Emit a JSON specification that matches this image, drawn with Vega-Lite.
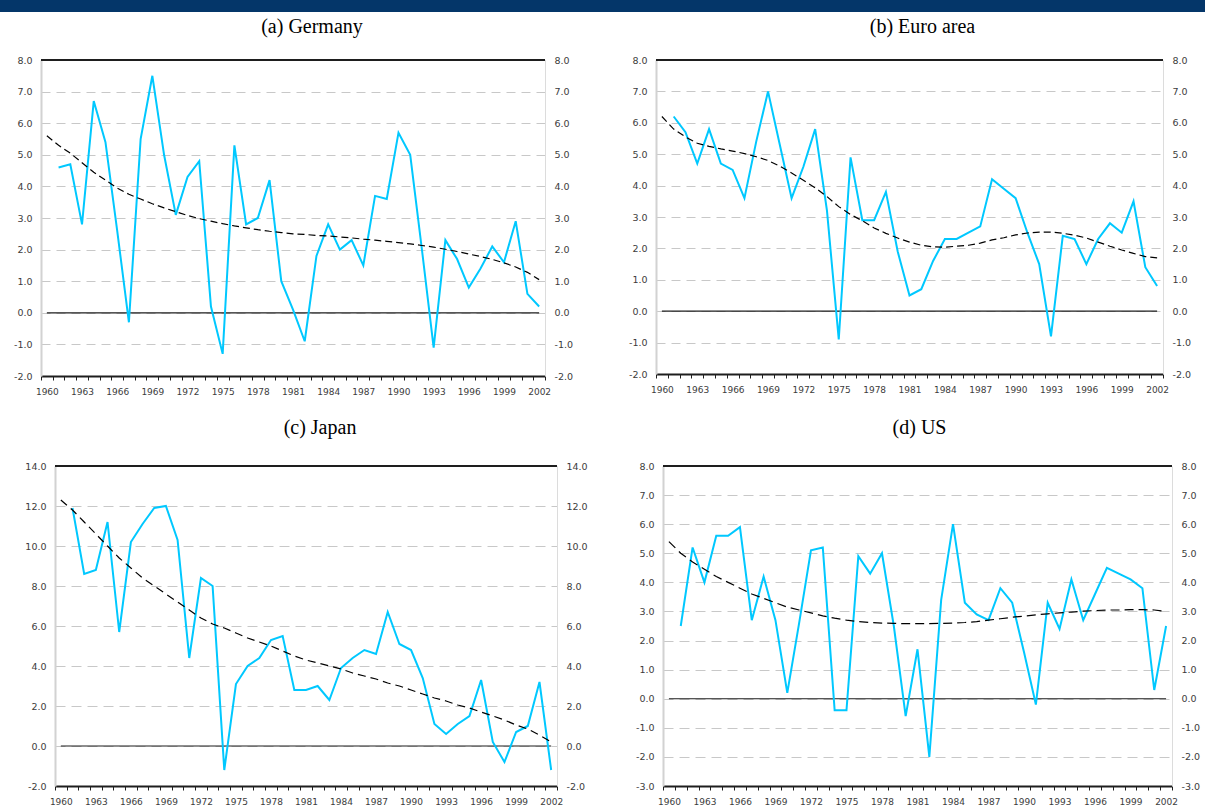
{
  "$schema": "https://vega.github.io/schema/vega-lite/v6.json",
  "autosize": {"type": "pad"},
  "padding": 0,
  "background": "#ffffff",
  "config": {"view": {"stroke": null}},
  "datasets": {
    "germany": [
      {"year":1960,"growth":null,"trend":5.6},{"year":1961,"growth":4.6,"trend":5.3},{"year":1962,"growth":4.7,"trend":5.05},{"year":1963,"growth":2.8,"trend":4.75},{"year":1964,"growth":6.7,"trend":4.45},{"year":1965,"growth":5.4,"trend":4.2},{"year":1966,"growth":2.6,"trend":3.95},{"year":1967,"growth":-0.3,"trend":3.75},{"year":1968,"growth":5.5,"trend":3.6},{"year":1969,"growth":7.5,"trend":3.45},{"year":1970,"growth":5.0,"trend":3.32},{"year":1971,"growth":3.1,"trend":3.2},{"year":1972,"growth":4.3,"trend":3.08},{"year":1973,"growth":4.8,"trend":2.98},{"year":1974,"growth":0.2,"trend":2.9},{"year":1975,"growth":-1.3,"trend":2.82},{"year":1976,"growth":5.3,"trend":2.75},{"year":1977,"growth":2.8,"trend":2.69},{"year":1978,"growth":3.0,"trend":2.63},{"year":1979,"growth":4.2,"trend":2.58},{"year":1980,"growth":1.0,"trend":2.54},{"year":1981,"growth":0.1,"trend":2.5},{"year":1982,"growth":-0.9,"trend":2.48},{"year":1983,"growth":1.8,"trend":2.45},{"year":1984,"growth":2.8,"trend":2.43},{"year":1985,"growth":2.0,"trend":2.4},{"year":1986,"growth":2.3,"trend":2.37},{"year":1987,"growth":1.5,"trend":2.33},{"year":1988,"growth":3.7,"trend":2.3},{"year":1989,"growth":3.6,"trend":2.26},{"year":1990,"growth":5.7,"trend":2.22},{"year":1991,"growth":5.0,"trend":2.18},{"year":1992,"growth":2.0,"trend":2.13},{"year":1993,"growth":-1.1,"trend":2.08},{"year":1994,"growth":2.3,"trend":2.01},{"year":1995,"growth":1.7,"trend":1.94},{"year":1996,"growth":0.8,"trend":1.86},{"year":1997,"growth":1.4,"trend":1.78},{"year":1998,"growth":2.1,"trend":1.69},{"year":1999,"growth":1.6,"trend":1.58},{"year":2000,"growth":2.9,"trend":1.45},{"year":2001,"growth":0.6,"trend":1.28},{"year":2002,"growth":0.2,"trend":1.05}
    ],
    "euro": [
      {"year":1960,"growth":null,"trend":6.2},{"year":1961,"growth":6.2,"trend":5.8},{"year":1962,"growth":5.7,"trend":5.55},{"year":1963,"growth":4.7,"trend":5.35},{"year":1964,"growth":5.8,"trend":5.25},{"year":1965,"growth":4.7,"trend":5.17},{"year":1966,"growth":4.5,"trend":5.1},{"year":1967,"growth":3.6,"trend":5.02},{"year":1968,"growth":5.4,"trend":4.92},{"year":1969,"growth":7.0,"trend":4.8},{"year":1970,"growth":5.3,"trend":4.62},{"year":1971,"growth":3.6,"trend":4.4},{"year":1972,"growth":4.6,"trend":4.17},{"year":1973,"growth":5.8,"trend":3.93},{"year":1974,"growth":3.2,"trend":3.65},{"year":1975,"growth":-0.9,"trend":3.33},{"year":1976,"growth":4.9,"trend":3.08},{"year":1977,"growth":2.9,"trend":2.88},{"year":1978,"growth":2.9,"trend":2.65},{"year":1979,"growth":3.8,"trend":2.48},{"year":1980,"growth":1.9,"trend":2.33},{"year":1981,"growth":0.5,"trend":2.2},{"year":1982,"growth":0.7,"trend":2.1},{"year":1983,"growth":1.6,"trend":2.05},{"year":1984,"growth":2.3,"trend":2.04},{"year":1985,"growth":2.3,"trend":2.07},{"year":1986,"growth":2.5,"trend":2.1},{"year":1987,"growth":2.7,"trend":2.17},{"year":1988,"growth":4.2,"trend":2.27},{"year":1989,"growth":3.9,"trend":2.34},{"year":1990,"growth":3.6,"trend":2.43},{"year":1991,"growth":2.5,"trend":2.49},{"year":1992,"growth":1.5,"trend":2.52},{"year":1993,"growth":-0.8,"trend":2.52},{"year":1994,"growth":2.4,"trend":2.48},{"year":1995,"growth":2.3,"trend":2.42},{"year":1996,"growth":1.5,"trend":2.33},{"year":1997,"growth":2.3,"trend":2.2},{"year":1998,"growth":2.8,"trend":2.07},{"year":1999,"growth":2.5,"trend":1.95},{"year":2000,"growth":3.5,"trend":1.84},{"year":2001,"growth":1.4,"trend":1.74},{"year":2002,"growth":0.8,"trend":1.7}
    ],
    "japan": [
      {"year":1960,"growth":null,"trend":12.3},{"year":1961,"growth":11.9,"trend":11.8},{"year":1962,"growth":8.6,"trend":11.2},{"year":1963,"growth":8.8,"trend":10.6},{"year":1964,"growth":11.2,"trend":10.0},{"year":1965,"growth":5.7,"trend":9.4},{"year":1966,"growth":10.2,"trend":8.9},{"year":1967,"growth":11.1,"trend":8.4},{"year":1968,"growth":11.9,"trend":8.0},{"year":1969,"growth":12.0,"trend":7.6},{"year":1970,"growth":10.3,"trend":7.2},{"year":1971,"growth":4.4,"trend":6.8},{"year":1972,"growth":8.4,"trend":6.4},{"year":1973,"growth":8.0,"trend":6.1},{"year":1974,"growth":-1.2,"trend":5.9},{"year":1975,"growth":3.1,"trend":5.65},{"year":1976,"growth":4.0,"trend":5.4},{"year":1977,"growth":4.4,"trend":5.2},{"year":1978,"growth":5.3,"trend":5.0},{"year":1979,"growth":5.5,"trend":4.75},{"year":1980,"growth":2.8,"trend":4.5},{"year":1981,"growth":2.8,"trend":4.3},{"year":1982,"growth":3.0,"trend":4.15},{"year":1983,"growth":2.3,"trend":4.0},{"year":1984,"growth":3.9,"trend":3.85},{"year":1985,"growth":4.4,"trend":3.65},{"year":1986,"growth":4.8,"trend":3.5},{"year":1987,"growth":4.6,"trend":3.35},{"year":1988,"growth":6.7,"trend":3.15},{"year":1989,"growth":5.1,"trend":3.0},{"year":1990,"growth":4.8,"trend":2.8},{"year":1991,"growth":3.4,"trend":2.6},{"year":1992,"growth":1.1,"trend":2.4},{"year":1993,"growth":0.6,"trend":2.25},{"year":1994,"growth":1.1,"trend":2.05},{"year":1995,"growth":1.5,"trend":1.9},{"year":1996,"growth":3.3,"trend":1.7},{"year":1997,"growth":0.2,"trend":1.5},{"year":1998,"growth":-0.8,"trend":1.3},{"year":1999,"growth":0.7,"trend":1.05},{"year":2000,"growth":1.0,"trend":0.85},{"year":2001,"growth":3.2,"trend":0.55},{"year":2002,"growth":-1.2,"trend":0.2}
    ],
    "us": [
      {"year":1960,"growth":null,"trend":5.4},{"year":1961,"growth":2.5,"trend":5.0},{"year":1962,"growth":5.2,"trend":4.7},{"year":1963,"growth":4.0,"trend":4.45},{"year":1964,"growth":5.6,"trend":4.2},{"year":1965,"growth":5.6,"trend":4.0},{"year":1966,"growth":5.9,"trend":3.8},{"year":1967,"growth":2.7,"trend":3.6},{"year":1968,"growth":4.2,"trend":3.45},{"year":1969,"growth":2.7,"trend":3.3},{"year":1970,"growth":0.2,"trend":3.15},{"year":1971,"growth":2.6,"trend":3.05},{"year":1972,"growth":5.1,"trend":2.95},{"year":1973,"growth":5.2,"trend":2.85},{"year":1974,"growth":-0.4,"trend":2.77},{"year":1975,"growth":-0.4,"trend":2.7},{"year":1976,"growth":4.9,"trend":2.65},{"year":1977,"growth":4.3,"trend":2.62},{"year":1978,"growth":5.0,"trend":2.6},{"year":1979,"growth":2.5,"trend":2.59},{"year":1980,"growth":-0.6,"trend":2.58},{"year":1981,"growth":1.7,"trend":2.58},{"year":1982,"growth":-2.0,"trend":2.58},{"year":1983,"growth":3.4,"trend":2.59},{"year":1984,"growth":6.0,"trend":2.6},{"year":1985,"growth":3.3,"trend":2.62},{"year":1986,"growth":2.9,"trend":2.65},{"year":1987,"growth":2.7,"trend":2.7},{"year":1988,"growth":3.8,"trend":2.75},{"year":1989,"growth":3.3,"trend":2.8},{"year":1990,"growth":1.6,"trend":2.84},{"year":1991,"growth":-0.2,"trend":2.88},{"year":1992,"growth":3.3,"trend":2.92},{"year":1993,"growth":2.4,"trend":2.95},{"year":1994,"growth":4.1,"trend":2.98},{"year":1995,"growth":2.7,"trend":3.01},{"year":1996,"growth":3.6,"trend":3.03},{"year":1997,"growth":4.5,"trend":3.05},{"year":1998,"growth":4.3,"trend":3.05},{"year":1999,"growth":4.1,"trend":3.06},{"year":2000,"growth":3.8,"trend":3.06},{"year":2001,"growth":0.3,"trend":3.05},{"year":2002,"growth":2.5,"trend":3.0}
    ]
  },
  "spacing": 5,
  "vconcat": [
    {"width": 1205, "height": 12, "data": {"values": [{"k": 0}]}, "mark": {"type": "text", "text": ""}, "encoding": {}, "view": {"fill": "#043669", "stroke": null}},
    {
      "spacing": 0,
      "hconcat": [
        {"width": 12.5, "height": 1, "data": {"values": [{"k": 0}]}, "mark": {"type": "text", "text": ""}, "encoding": {}, "view": {"fill": "#ffffff", "stroke": null}},
        {
          "width": 504, "height": 316,
          "data": {"name": "germany"},
          "title": {"text": "(a) Germany", "font": "Liberation Serif", "fontSize": 20, "fontWeight": "normal", "color": "#000000", "anchor": "middle", "frame": "group", "baseline": "bottom", "offset": -2, "dx": 19},
          "layer": [
            {"mark": {"type": "rule", "color": "#1e1e1e", "strokeWidth": 1.2}, "encoding": {"y": {"datum": 8, "type": "quantitative", "axis": null}}},
            {"mark": {"type": "line", "color": "#1e1e1e", "strokeWidth": 1.2}, "encoding": {
              "x": {"field": "year", "type": "ordinal", "bandPosition": 0.5, "scale": {"type": "band", "paddingInner": 0, "paddingOuter": 0}, "axis": {"title": null, "labelAngle": 0, "labelOverlap": false, "labelExpr": "(datum.value - 1960) % 3 === 0 ? datum.label : ''", "tickBand": "extent", "tickSize": 4, "tickColor": "#1e1e1e", "tickWidth": 1, "domainColor": "#1e1e1e", "domainWidth": 2, "labelFont": "DejaVu Sans", "labelFontSize": 9, "labelColor": "#3c3c3c", "labelPadding": 7, "grid": false}},
              "y": {"datum": 0, "type": "quantitative", "axis": null}}},
            {"mark": {"type": "line", "color": "#00C8FF", "strokeWidth": 2}, "encoding": {
              "x": {"field": "year", "type": "ordinal", "bandPosition": 0.5, "scale": {"type": "band", "paddingInner": 0, "paddingOuter": 0}, "axis": {"title": null, "labelAngle": 0, "labelOverlap": false, "labelExpr": "(datum.value - 1960) % 3 === 0 ? datum.label : ''", "tickBand": "extent", "tickSize": 4, "tickColor": "#1e1e1e", "tickWidth": 1, "domainColor": "#1e1e1e", "domainWidth": 2, "labelFont": "DejaVu Sans", "labelFontSize": 9, "labelColor": "#3c3c3c", "labelPadding": 7, "grid": false}},
              "y": {"field": "growth", "type": "quantitative", "scale": {"domain": [-2, 8], "nice": false, "zero": false}, "axis": {"orient": "left", "title": null, "values": [-2,-1,0,1,2,3,4,5,6,7,8], "labelExpr": "replace(format(datum.value, '.1f'), '\u2212', '-')", "grid": true, "gridColor": "#c8c8c8", "gridDash": [9, 6], "gridWidth": 1, "ticks": false, "domainColor": "#d2d2d2", "domainWidth": 2, "labelFont": "DejaVu Sans", "labelFontSize": 9.5, "labelColor": "#3c3c3c", "labelPadding": 9}}}},
            {"mark": {"type": "line", "color": "#000000", "strokeWidth": 1.2, "strokeDash": [7, 4]}, "encoding": {
              "x": {"field": "year", "type": "ordinal", "bandPosition": 0.5, "scale": {"type": "band", "paddingInner": 0, "paddingOuter": 0}, "axis": {"title": null, "labelAngle": 0, "labelOverlap": false, "labelExpr": "(datum.value - 1960) % 3 === 0 ? datum.label : ''", "tickBand": "extent", "tickSize": 4, "tickColor": "#1e1e1e", "tickWidth": 1, "domainColor": "#1e1e1e", "domainWidth": 2, "labelFont": "DejaVu Sans", "labelFontSize": 9, "labelColor": "#3c3c3c", "labelPadding": 7, "grid": false}},
              "y": {"field": "trend", "type": "quantitative", "axis": {"orient": "right", "title": null, "values": [-2,-1,0,1,2,3,4,5,6,7,8], "labelExpr": "replace(format(datum.value, '.1f'), '\u2212', '-')", "grid": false, "ticks": false, "domainColor": "#dcdcdc", "domainWidth": 1, "labelFont": "DejaVu Sans", "labelFontSize": 9.5, "labelColor": "#3c3c3c", "labelPadding": 9}}}}
          ],
          "resolve": {"axis": {"y": "independent"}}
        },
        {"width": 55, "height": 1, "data": {"values": [{"k": 0}]}, "mark": {"type": "text", "text": ""}, "encoding": {}, "view": {"fill": "#ffffff", "stroke": null}},
        {
          "width": 507, "height": 314,
          "data": {"name": "euro"},
          "title": {"text": "(b) Euro area", "font": "Liberation Serif", "fontSize": 20, "fontWeight": "normal", "color": "#000000", "anchor": "middle", "frame": "group", "baseline": "bottom", "offset": -2, "dx": 13},
          "layer": [
            {"mark": {"type": "rule", "color": "#1e1e1e", "strokeWidth": 1.2}, "encoding": {"y": {"datum": 8, "type": "quantitative", "axis": null}}},
            {"mark": {"type": "line", "color": "#1e1e1e", "strokeWidth": 1.2}, "encoding": {
              "x": {"field": "year", "type": "ordinal", "bandPosition": 0.5, "scale": {"type": "band", "paddingInner": 0, "paddingOuter": 0}, "axis": {"title": null, "labelAngle": 0, "labelOverlap": false, "labelExpr": "(datum.value - 1960) % 3 === 0 ? datum.label : ''", "tickBand": "extent", "tickSize": 4, "tickColor": "#1e1e1e", "tickWidth": 1, "domainColor": "#1e1e1e", "domainWidth": 2, "labelFont": "DejaVu Sans", "labelFontSize": 9, "labelColor": "#3c3c3c", "labelPadding": 7, "grid": false}},
              "y": {"datum": 0, "type": "quantitative", "axis": null}}},
            {"mark": {"type": "line", "color": "#00C8FF", "strokeWidth": 2}, "encoding": {
              "x": {"field": "year", "type": "ordinal", "bandPosition": 0.5, "scale": {"type": "band", "paddingInner": 0, "paddingOuter": 0}, "axis": {"title": null, "labelAngle": 0, "labelOverlap": false, "labelExpr": "(datum.value - 1960) % 3 === 0 ? datum.label : ''", "tickBand": "extent", "tickSize": 4, "tickColor": "#1e1e1e", "tickWidth": 1, "domainColor": "#1e1e1e", "domainWidth": 2, "labelFont": "DejaVu Sans", "labelFontSize": 9, "labelColor": "#3c3c3c", "labelPadding": 7, "grid": false}},
              "y": {"field": "growth", "type": "quantitative", "scale": {"domain": [-2, 8], "nice": false, "zero": false}, "axis": {"orient": "left", "title": null, "values": [-2,-1,0,1,2,3,4,5,6,7,8], "labelExpr": "replace(format(datum.value, '.1f'), '\u2212', '-')", "grid": true, "gridColor": "#c8c8c8", "gridDash": [9, 6], "gridWidth": 1, "ticks": false, "domainColor": "#d2d2d2", "domainWidth": 2, "labelFont": "DejaVu Sans", "labelFontSize": 9.5, "labelColor": "#3c3c3c", "labelPadding": 9}}}},
            {"mark": {"type": "line", "color": "#000000", "strokeWidth": 1.2, "strokeDash": [7, 4]}, "encoding": {
              "x": {"field": "year", "type": "ordinal", "bandPosition": 0.5, "scale": {"type": "band", "paddingInner": 0, "paddingOuter": 0}, "axis": {"title": null, "labelAngle": 0, "labelOverlap": false, "labelExpr": "(datum.value - 1960) % 3 === 0 ? datum.label : ''", "tickBand": "extent", "tickSize": 4, "tickColor": "#1e1e1e", "tickWidth": 1, "domainColor": "#1e1e1e", "domainWidth": 2, "labelFont": "DejaVu Sans", "labelFontSize": 9, "labelColor": "#3c3c3c", "labelPadding": 7, "grid": false}},
              "y": {"field": "trend", "type": "quantitative", "axis": {"orient": "right", "title": null, "values": [-2,-1,0,1,2,3,4,5,6,7,8], "labelExpr": "replace(format(datum.value, '.1f'), '\u2212', '-')", "grid": false, "ticks": false, "domainColor": "#dcdcdc", "domainWidth": 1, "labelFont": "DejaVu Sans", "labelFontSize": 9.5, "labelColor": "#3c3c3c", "labelPadding": 9}}}}
          ],
          "resolve": {"axis": {"y": "independent"}}
        }
      ]
    },
    {"width": 1, "height": 11, "data": {"values": [{"k": 0}]}, "mark": {"type": "text", "text": ""}, "encoding": {}, "view": {"fill": "#ffffff", "stroke": null}},
    {
      "spacing": 0,
      "hconcat": [
        {"width": 24, "height": 1, "data": {"values": [{"k": 0}]}, "mark": {"type": "text", "text": ""}, "encoding": {}, "view": {"fill": "#ffffff", "stroke": null}},
        {
          "width": 502, "height": 320,
          "data": {"name": "japan"},
          "title": {"text": "(c) Japan", "font": "Liberation Serif", "fontSize": 20, "fontWeight": "normal", "color": "#000000", "anchor": "middle", "frame": "group", "baseline": "bottom", "offset": 3, "dx": 14},
          "layer": [
            {"mark": {"type": "rule", "color": "#1e1e1e", "strokeWidth": 1.2}, "encoding": {"y": {"datum": 14, "type": "quantitative", "axis": null}}},
            {"mark": {"type": "line", "color": "#1e1e1e", "strokeWidth": 1.2}, "encoding": {
              "x": {"field": "year", "type": "ordinal", "bandPosition": 0.5, "scale": {"type": "band", "paddingInner": 0, "paddingOuter": 0}, "axis": {"title": null, "labelAngle": 0, "labelOverlap": false, "labelExpr": "(datum.value - 1960) % 3 === 0 ? datum.label : ''", "tickBand": "extent", "tickSize": 4, "tickColor": "#1e1e1e", "tickWidth": 1, "domainColor": "#1e1e1e", "domainWidth": 2, "labelFont": "DejaVu Sans", "labelFontSize": 9, "labelColor": "#3c3c3c", "labelPadding": 7, "grid": false}},
              "y": {"datum": 0, "type": "quantitative", "axis": null}}},
            {"mark": {"type": "line", "color": "#00C8FF", "strokeWidth": 2}, "encoding": {
              "x": {"field": "year", "type": "ordinal", "bandPosition": 0.5, "scale": {"type": "band", "paddingInner": 0, "paddingOuter": 0}, "axis": {"title": null, "labelAngle": 0, "labelOverlap": false, "labelExpr": "(datum.value - 1960) % 3 === 0 ? datum.label : ''", "tickBand": "extent", "tickSize": 4, "tickColor": "#1e1e1e", "tickWidth": 1, "domainColor": "#1e1e1e", "domainWidth": 2, "labelFont": "DejaVu Sans", "labelFontSize": 9, "labelColor": "#3c3c3c", "labelPadding": 7, "grid": false}},
              "y": {"field": "growth", "type": "quantitative", "scale": {"domain": [-2, 14], "nice": false, "zero": false}, "axis": {"orient": "left", "title": null, "values": [-2,0,2,4,6,8,10,12,14], "labelExpr": "replace(format(datum.value, '.1f'), '\u2212', '-')", "grid": true, "gridColor": "#c8c8c8", "gridDash": [10, 6], "gridWidth": 1, "ticks": false, "domainColor": "#d2d2d2", "domainWidth": 2, "labelFont": "DejaVu Sans", "labelFontSize": 9.5, "labelColor": "#3c3c3c", "labelPadding": 9}}}},
            {"mark": {"type": "line", "color": "#000000", "strokeWidth": 1.2, "strokeDash": [8, 5]}, "encoding": {
              "x": {"field": "year", "type": "ordinal", "bandPosition": 0.5, "scale": {"type": "band", "paddingInner": 0, "paddingOuter": 0}, "axis": {"title": null, "labelAngle": 0, "labelOverlap": false, "labelExpr": "(datum.value - 1960) % 3 === 0 ? datum.label : ''", "tickBand": "extent", "tickSize": 4, "tickColor": "#1e1e1e", "tickWidth": 1, "domainColor": "#1e1e1e", "domainWidth": 2, "labelFont": "DejaVu Sans", "labelFontSize": 9, "labelColor": "#3c3c3c", "labelPadding": 7, "grid": false}},
              "y": {"field": "trend", "type": "quantitative", "axis": {"orient": "right", "title": null, "values": [-2,0,2,4,6,8,10,12,14], "labelExpr": "replace(format(datum.value, '.1f'), '\u2212', '-')", "grid": false, "ticks": false, "domainColor": "#dcdcdc", "domainWidth": 1, "labelFont": "DejaVu Sans", "labelFontSize": 9.5, "labelColor": "#3c3c3c", "labelPadding": 9}}}}
          ],
          "resolve": {"axis": {"y": "independent"}}
        },
        {"width": 46.3, "height": 1, "data": {"values": [{"k": 0}]}, "mark": {"type": "text", "text": ""}, "encoding": {}, "view": {"fill": "#ffffff", "stroke": null}},
        {
          "width": 509, "height": 320,
          "data": {"name": "us"},
          "title": {"text": "(d) US", "font": "Liberation Serif", "fontSize": 20, "fontWeight": "normal", "color": "#000000", "anchor": "middle", "frame": "group", "baseline": "bottom", "offset": 3, "dx": 2},
          "layer": [
            {"mark": {"type": "rule", "color": "#1e1e1e", "strokeWidth": 1.2}, "encoding": {"y": {"datum": 8, "type": "quantitative", "axis": null}}},
            {"mark": {"type": "line", "color": "#1e1e1e", "strokeWidth": 1.2}, "encoding": {
              "x": {"field": "year", "type": "ordinal", "bandPosition": 0.5, "scale": {"type": "band", "paddingInner": 0, "paddingOuter": 0}, "axis": {"title": null, "labelAngle": 0, "labelOverlap": false, "labelExpr": "(datum.value - 1960) % 3 === 0 ? datum.label : ''", "tickBand": "extent", "tickSize": 4, "tickColor": "#1e1e1e", "tickWidth": 1, "domainColor": "#1e1e1e", "domainWidth": 2, "labelFont": "DejaVu Sans", "labelFontSize": 9, "labelColor": "#3c3c3c", "labelPadding": 7, "grid": false}},
              "y": {"datum": 0, "type": "quantitative", "axis": null}}},
            {"mark": {"type": "line", "color": "#00C8FF", "strokeWidth": 2}, "encoding": {
              "x": {"field": "year", "type": "ordinal", "bandPosition": 0.5, "scale": {"type": "band", "paddingInner": 0, "paddingOuter": 0}, "axis": {"title": null, "labelAngle": 0, "labelOverlap": false, "labelExpr": "(datum.value - 1960) % 3 === 0 ? datum.label : ''", "tickBand": "extent", "tickSize": 4, "tickColor": "#1e1e1e", "tickWidth": 1, "domainColor": "#1e1e1e", "domainWidth": 2, "labelFont": "DejaVu Sans", "labelFontSize": 9, "labelColor": "#3c3c3c", "labelPadding": 7, "grid": false}},
              "y": {"field": "growth", "type": "quantitative", "scale": {"domain": [-3, 8], "nice": false, "zero": false}, "axis": {"orient": "left", "title": null, "values": [-3,-2,-1,0,1,2,3,4,5,6,7,8], "labelExpr": "replace(format(datum.value, '.1f'), '\u2212', '-')", "grid": true, "gridColor": "#c8c8c8", "gridDash": [10, 6], "gridWidth": 1, "ticks": false, "domainColor": "#d2d2d2", "domainWidth": 2, "labelFont": "DejaVu Sans", "labelFontSize": 9.5, "labelColor": "#3c3c3c", "labelPadding": 9}}}},
            {"mark": {"type": "line", "color": "#000000", "strokeWidth": 1.2, "strokeDash": [9, 5]}, "encoding": {
              "x": {"field": "year", "type": "ordinal", "bandPosition": 0.5, "scale": {"type": "band", "paddingInner": 0, "paddingOuter": 0}, "axis": {"title": null, "labelAngle": 0, "labelOverlap": false, "labelExpr": "(datum.value - 1960) % 3 === 0 ? datum.label : ''", "tickBand": "extent", "tickSize": 4, "tickColor": "#1e1e1e", "tickWidth": 1, "domainColor": "#1e1e1e", "domainWidth": 2, "labelFont": "DejaVu Sans", "labelFontSize": 9, "labelColor": "#3c3c3c", "labelPadding": 7, "grid": false}},
              "y": {"field": "trend", "type": "quantitative", "axis": {"orient": "right", "title": null, "values": [-3,-2,-1,0,1,2,3,4,5,6,7,8], "labelExpr": "replace(format(datum.value, '.1f'), '\u2212', '-')", "grid": false, "ticks": false, "domainColor": "#dcdcdc", "domainWidth": 1, "labelFont": "DejaVu Sans", "labelFontSize": 9.5, "labelColor": "#3c3c3c", "labelPadding": 9}}}}
          ],
          "resolve": {"axis": {"y": "independent"}}
        }
      ]
    }
  ]
}
